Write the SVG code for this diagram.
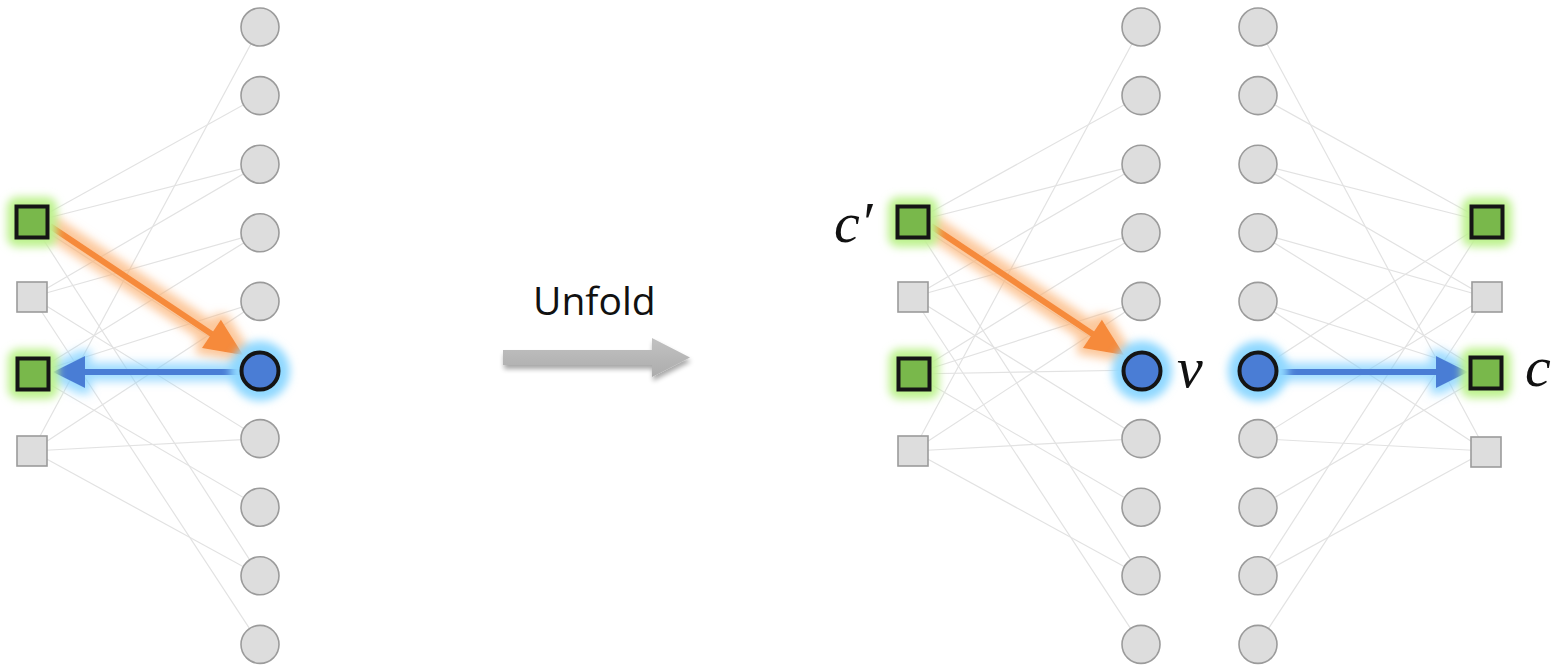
<svg xmlns="http://www.w3.org/2000/svg" width="1564" height="667" viewBox="0 0 1564 667">
  <defs>
    <style>
      .edges line { stroke: #e2e2e2; stroke-width: 1.2; fill: none; }
      .var circle.core { fill: #dddddd; stroke: #9b9b9b; stroke-width: 1.6; }
      .chk rect.core { fill: #dddddd; stroke: #9b9b9b; stroke-width: 1.6; }
      .chk.on rect.core { fill: #79b84b; stroke: #151515; stroke-width: 4; }
      .var.on circle.core { fill: #4a7dd5; stroke: #151515; stroke-width: 4; }
      .chk.on .halo { fill: #bdf28e; }
      .var.on .halo { fill: #8fd8ff; }
      .math { font-family: "Liberation Serif", "DejaVu Serif", serif; font-style: italic; font-size: 58px; fill: #111; }
      .caption { font-family: "Open Sans", "Noto Sans", sans-serif; font-size: 39px; fill: #111; }
    </style>
    <filter id="soft" x="-60%" y="-60%" width="220%" height="220%">
      <feGaussianBlur stdDeviation="4"/>
    </filter>
    <filter id="glowOrange" filterUnits="userSpaceOnUse" x="0" y="0" width="1564" height="667">
      <feMorphology in="SourceAlpha" operator="dilate" radius="6" result="d"/>
      <feGaussianBlur in="d" stdDeviation="5" result="b"/>
      <feFlood flood-color="#fbb070" flood-opacity="0.7"/>
      <feComposite in2="b" operator="in" result="g"/>
      <feMerge><feMergeNode in="g"/><feMergeNode in="SourceGraphic"/></feMerge>
    </filter>
    <filter id="glowBlue" filterUnits="userSpaceOnUse" x="0" y="0" width="1564" height="667">
      <feMorphology in="SourceAlpha" operator="dilate" radius="6" result="d"/>
      <feGaussianBlur in="d" stdDeviation="5" result="b"/>
      <feFlood flood-color="#7fd0ff" flood-opacity="0.75"/>
      <feComposite in2="b" operator="in" result="g"/>
      <feMerge><feMergeNode in="g"/><feMergeNode in="SourceGraphic"/></feMerge>
    </filter>
    <filter id="dropShadow" filterUnits="userSpaceOnUse" x="480" y="320" width="240" height="80">
      <feGaussianBlur in="SourceAlpha" stdDeviation="2.5" result="b"/>
      <feOffset in="b" dx="1" dy="4" result="o"/>
      <feComponentTransfer in="o" result="s"><feFuncA type="linear" slope="0.35"/></feComponentTransfer>
      <feMerge><feMergeNode in="s"/><feMergeNode in="SourceGraphic"/></feMerge>
    </filter>
    <linearGradient id="grayFill" x1="0" y1="0" x2="0" y2="1">
      <stop offset="0" stop-color="#c2c2c2"/>
      <stop offset="1" stop-color="#acacac"/>
    </linearGradient>
    <marker id="headOrange" markerUnits="userSpaceOnUse" orient="auto" refX="0" refY="0" markerWidth="40" markerHeight="40" overflow="visible">
      <path d="M-2,-17 L36,0 L-2,17 Z" fill="#f68a3a"/>
    </marker>
    <marker id="headBlue" markerUnits="userSpaceOnUse" orient="auto" refX="0" refY="0" markerWidth="40" markerHeight="40" overflow="visible">
      <path d="M-2,-16 L30,0 L-2,16 Z" fill="#4a7dd5"/>
    </marker>
  </defs>

  <rect width="1564" height="667" fill="#ffffff"/>

  <!-- bipartite edges: checks (squares) to variables (circles) -->
  <g id="connectors">
    <g class="edges" id="edges-left">
      <line x1="32" y1="222" x2="260" y2="95.6"/>
      <line x1="32" y1="222" x2="260" y2="164.2"/>
      <line x1="32" y1="222" x2="260" y2="370"/>
      <line x1="32" y1="222" x2="260" y2="575.8"/>
      <line x1="32" y1="297" x2="260" y2="164.2"/>
      <line x1="32" y1="297" x2="260" y2="232.8"/>
      <line x1="32" y1="297" x2="260" y2="438.6"/>
      <line x1="32" y1="297" x2="260" y2="644.4"/>
      <line x1="32" y1="374" x2="260" y2="232.8"/>
      <line x1="32" y1="374" x2="260" y2="301.4"/>
      <line x1="32" y1="374" x2="260" y2="370"/>
      <line x1="32" y1="374" x2="260" y2="507.2"/>
      <line x1="32" y1="451" x2="260" y2="27"/>
      <line x1="32" y1="451" x2="260" y2="301.4"/>
      <line x1="32" y1="451" x2="260" y2="438.6"/>
      <line x1="32" y1="451" x2="260" y2="575.8"/>
    </g>
    <g class="edges" id="edges-mid" transform="translate(881,0)">
      <line x1="32" y1="222" x2="260" y2="95.6"/>
      <line x1="32" y1="222" x2="260" y2="164.2"/>
      <line x1="32" y1="222" x2="260" y2="370"/>
      <line x1="32" y1="222" x2="260" y2="575.8"/>
      <line x1="32" y1="297" x2="260" y2="164.2"/>
      <line x1="32" y1="297" x2="260" y2="232.8"/>
      <line x1="32" y1="297" x2="260" y2="438.6"/>
      <line x1="32" y1="297" x2="260" y2="644.4"/>
      <line x1="32" y1="374" x2="260" y2="232.8"/>
      <line x1="32" y1="374" x2="260" y2="301.4"/>
      <line x1="32" y1="374" x2="260" y2="370"/>
      <line x1="32" y1="374" x2="260" y2="507.2"/>
      <line x1="32" y1="451" x2="260" y2="27"/>
      <line x1="32" y1="451" x2="260" y2="301.4"/>
      <line x1="32" y1="451" x2="260" y2="438.6"/>
      <line x1="32" y1="451" x2="260" y2="575.8"/>
    </g>
    <g class="edges" id="edges-right" transform="matrix(-1,0,0,1,1518,0)">
      <line x1="32" y1="222" x2="260" y2="95.6"/>
      <line x1="32" y1="222" x2="260" y2="164.2"/>
      <line x1="32" y1="222" x2="260" y2="370"/>
      <line x1="32" y1="222" x2="260" y2="575.8"/>
      <line x1="32" y1="297" x2="260" y2="164.2"/>
      <line x1="32" y1="297" x2="260" y2="232.8"/>
      <line x1="32" y1="297" x2="260" y2="438.6"/>
      <line x1="32" y1="297" x2="260" y2="644.4"/>
      <line x1="32" y1="374" x2="260" y2="232.8"/>
      <line x1="32" y1="374" x2="260" y2="301.4"/>
      <line x1="32" y1="374" x2="260" y2="370"/>
      <line x1="32" y1="374" x2="260" y2="507.2"/>
      <line x1="32" y1="451" x2="260" y2="27"/>
      <line x1="32" y1="451" x2="260" y2="301.4"/>
      <line x1="32" y1="451" x2="260" y2="438.6"/>
      <line x1="32" y1="451" x2="260" y2="575.8"/>
    </g>

    <!-- highlighted messages -->
    <g id="msg-left-in" filter="url(#glowOrange)">
      <line x1="50" y1="226" x2="213.1" y2="335" stroke="#f68a3a" stroke-width="6" marker-end="url(#headOrange)"/>
    </g>
    <g id="msg-left-out" filter="url(#glowBlue)">
      <line x1="241" y1="372" x2="83" y2="372" stroke="#4a7dd5" stroke-width="6" marker-end="url(#headBlue)"/>
    </g>
    <g id="msg-mid-in" filter="url(#glowOrange)">
      <line x1="931" y1="226" x2="1094.1" y2="335" stroke="#f68a3a" stroke-width="6" marker-end="url(#headOrange)"/>
    </g>
    <g id="msg-right-out" filter="url(#glowBlue)">
      <line x1="1277" y1="372" x2="1438" y2="372" stroke="#4a7dd5" stroke-width="6" marker-end="url(#headBlue)"/>
    </g>

    <!-- unfold arrow -->
    <g id="unfold-arrow" filter="url(#dropShadow)">
      <path d="M503,350 L652,350 L652,338 L690,357.5 L652,377 L652,365 L503,365 Z" fill="url(#grayFill)"/>
    </g>
  </g>

  <!-- left graph -->
  <g id="left-graph">
    <g id="L-s1" class="chk on" transform="translate(32,222)"><rect class="halo" x="-25" y="-25" width="50" height="50" rx="10" filter="url(#soft)"/><rect class="core" x="-15.5" y="-15.5" width="31" height="31"/></g>
    <g id="L-s2" class="chk" transform="translate(32,297)"><rect class="core" x="-15" y="-15" width="30" height="30"/></g>
    <g id="L-s3" class="chk on" transform="translate(33,374)"><rect class="halo" x="-25" y="-25" width="50" height="50" rx="10" filter="url(#soft)"/><rect class="core" x="-15.5" y="-15.5" width="31" height="31"/></g>
    <g id="L-s4" class="chk" transform="translate(32,451)"><rect class="core" x="-15" y="-15" width="30" height="30"/></g>
    <g id="L-v1" class="var" transform="translate(260,27)"><circle class="core" r="19"/></g>
    <g id="L-v2" class="var" transform="translate(260,95.6)"><circle class="core" r="19"/></g>
    <g id="L-v3" class="var" transform="translate(260,164.2)"><circle class="core" r="19"/></g>
    <g id="L-v4" class="var" transform="translate(260,232.8)"><circle class="core" r="19"/></g>
    <g id="L-v5" class="var" transform="translate(260,301.4)"><circle class="core" r="19"/></g>
    <g id="L-v6" class="var on" transform="translate(260,371)"><circle class="halo" r="30" filter="url(#soft)"/><circle class="core" r="18.5"/></g>
    <g id="L-v7" class="var" transform="translate(260,438.6)"><circle class="core" r="19"/></g>
    <g id="L-v8" class="var" transform="translate(260,507.2)"><circle class="core" r="19"/></g>
    <g id="L-v9" class="var" transform="translate(260,575.8)"><circle class="core" r="19"/></g>
    <g id="L-v10" class="var" transform="translate(260,644.4)"><circle class="core" r="19"/></g>
  </g>

  <!-- middle graph (unfolded, incoming side) -->
  <g id="mid-graph">
    <g id="M-s1" class="chk on" transform="translate(913,222)"><rect class="halo" x="-25" y="-25" width="50" height="50" rx="10" filter="url(#soft)"/><rect class="core" x="-15.5" y="-15.5" width="31" height="31"/></g>
    <g id="M-s2" class="chk" transform="translate(913,297)"><rect class="core" x="-15" y="-15" width="30" height="30"/></g>
    <g id="M-s3" class="chk on" transform="translate(914,374)"><rect class="halo" x="-25" y="-25" width="50" height="50" rx="10" filter="url(#soft)"/><rect class="core" x="-15.5" y="-15.5" width="31" height="31"/></g>
    <g id="M-s4" class="chk" transform="translate(913,451)"><rect class="core" x="-15" y="-15" width="30" height="30"/></g>
    <g id="M-v1" class="var" transform="translate(1141,27)"><circle class="core" r="19"/></g>
    <g id="M-v2" class="var" transform="translate(1141,95.6)"><circle class="core" r="19"/></g>
    <g id="M-v3" class="var" transform="translate(1141,164.2)"><circle class="core" r="19"/></g>
    <g id="M-v4" class="var" transform="translate(1141,232.8)"><circle class="core" r="19"/></g>
    <g id="M-v5" class="var" transform="translate(1141,301.4)"><circle class="core" r="19"/></g>
    <g id="M-v6" class="var on" transform="translate(1142,371)"><circle class="halo" r="30" filter="url(#soft)"/><circle class="core" r="18.5"/></g>
    <g id="M-v7" class="var" transform="translate(1141,438.6)"><circle class="core" r="19"/></g>
    <g id="M-v8" class="var" transform="translate(1141,507.2)"><circle class="core" r="19"/></g>
    <g id="M-v9" class="var" transform="translate(1141,575.8)"><circle class="core" r="19"/></g>
    <g id="M-v10" class="var" transform="translate(1141,644.4)"><circle class="core" r="19"/></g>
  </g>

  <!-- right graph (unfolded, outgoing side) -->
  <g id="right-graph">
    <g id="R-v1" class="var" transform="translate(1258,27)"><circle class="core" r="19"/></g>
    <g id="R-v2" class="var" transform="translate(1258,95.6)"><circle class="core" r="19"/></g>
    <g id="R-v3" class="var" transform="translate(1258,164.2)"><circle class="core" r="19"/></g>
    <g id="R-v4" class="var" transform="translate(1258,232.8)"><circle class="core" r="19"/></g>
    <g id="R-v5" class="var" transform="translate(1258,301.4)"><circle class="core" r="19"/></g>
    <g id="R-v6" class="var on" transform="translate(1258,371)"><circle class="halo" r="30" filter="url(#soft)"/><circle class="core" r="18.5"/></g>
    <g id="R-v7" class="var" transform="translate(1258,438.6)"><circle class="core" r="19"/></g>
    <g id="R-v8" class="var" transform="translate(1258,507.2)"><circle class="core" r="19"/></g>
    <g id="R-v9" class="var" transform="translate(1258,575.8)"><circle class="core" r="19"/></g>
    <g id="R-v10" class="var" transform="translate(1258,644.4)"><circle class="core" r="19"/></g>
    <g id="R-s1" class="chk on" transform="translate(1487,222)"><rect class="halo" x="-25" y="-25" width="50" height="50" rx="10" filter="url(#soft)"/><rect class="core" x="-15.5" y="-15.5" width="31" height="31"/></g>
    <g id="R-s2" class="chk" transform="translate(1487,297)"><rect class="core" x="-15" y="-15" width="30" height="30"/></g>
    <g id="R-s3" class="chk on" transform="translate(1486,373)"><rect class="halo" x="-25" y="-25" width="50" height="50" rx="10" filter="url(#soft)"/><rect class="core" x="-15.5" y="-15.5" width="31" height="31"/></g>
    <g id="R-s4" class="chk" transform="translate(1486,452)"><rect class="core" x="-15" y="-15" width="30" height="30"/></g>
  </g>

  <!-- labels -->
  <g id="labels">
    <text class="caption" x="533" y="315">Unfold</text>
    <text class="math" x="834" y="242">c′</text>
    <text class="math" x="1177" y="387">v</text>
    <text class="math" x="1525" y="386">c</text>
  </g>
</svg>
